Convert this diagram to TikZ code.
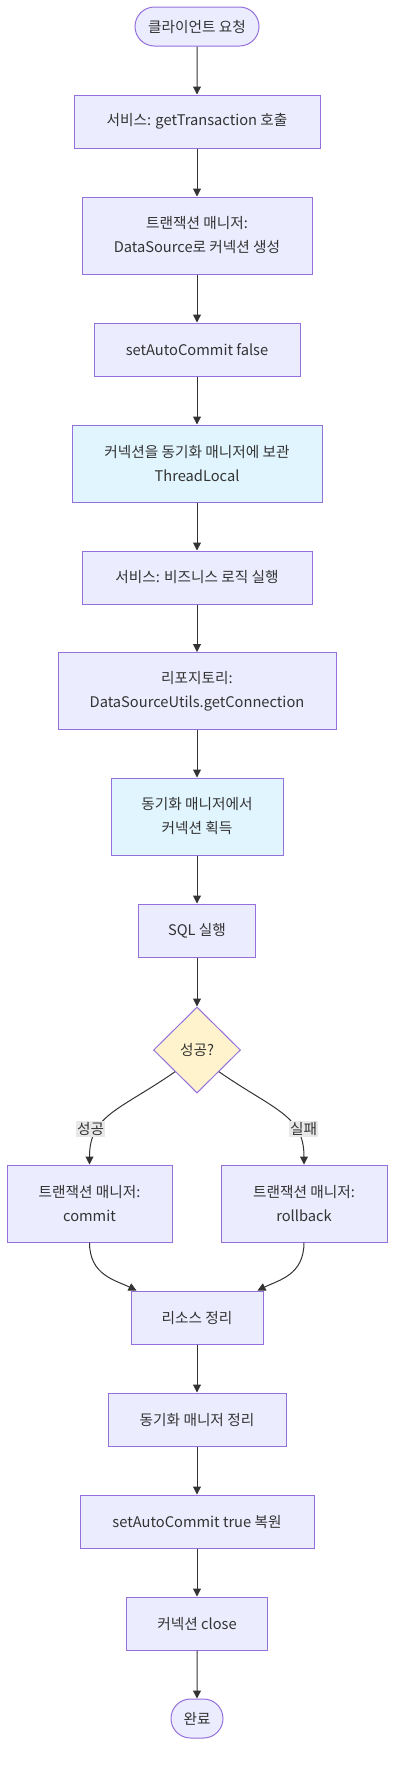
\documentclass[tikz,border=0pt]{standalone}
\usepackage{fontspec}
\setmainfont{Noto Sans CJK KR}
\usetikzlibrary{shapes.geometric,shapes.misc,arrows.meta}
\definecolor{boxfill}{HTML}{ECECFF}
\definecolor{boxline}{HTML}{9370DB}
\definecolor{syncfill}{HTML}{E1F5FE}
\definecolor{decfill}{HTML}{FFF3CD}
\definecolor{edgec}{HTML}{333333}
\definecolor{lblfill}{HTML}{E8E8E8}
\definecolor{txtc}{HTML}{333333}
\begin{document}
\begin{tikzpicture}[x=0.75pt,y=-0.75pt,
  base/.style={draw=boxline, line width=0.75pt, text=txtc, font=\fontsize{11}{18}\selectfont, align=center, inner sep=0pt},
  proc/.style={base, rectangle, fill=boxfill},
  syncbox/.style={base, rectangle, fill=syncfill},
  term/.style={base, rounded rectangle, fill=boxfill, minimum height=29.25pt},
  decbox/.style={base, diamond, fill=decfill, minimum width=65.25pt, minimum height=64.5pt},
  flow/.style={draw=edgec, line width=0.75pt, -{Triangle[length=6pt,width=6pt]}},
  lbl/.style={fill=lblfill, text=txtc, font=\fontsize{11}{13}\selectfont, inner sep=1pt}
]
\useasboundingbox (0,0) rectangle (402,1778);

\node[term, minimum width=93pt] (start) at (197,26.5) {클라이언트 요청};
\node[proc, minimum width=184.5pt, minimum height=39.75pt] (n1) at (197,121.5) {서비스: getTransaction 호출};
\node[proc, minimum width=172.5pt, minimum height=57.75pt] (n2) at (197,235.5) {트랜잭션 매니저:\\DataSource로 커넥션 생성};
\node[proc, minimum width=154.5pt, minimum height=39.75pt] (n3) at (197,349.5) {setAutoCommit false};
\node[syncbox, minimum width=187.5pt, minimum height=57.75pt] (n4) at (197,463.5) {커넥션을 동기화 매니저에 보관\\ThreadLocal};
\node[proc, minimum width=172.5pt, minimum height=39.75pt] (n5) at (197,577.5) {서비스: 비즈니스 로직 실행};
\node[proc, minimum width=208.5pt, minimum height=57.75pt] (n6) at (197,691) {리포지토리:\\DataSourceUtils.getConnection};
\node[syncbox, minimum width=129pt, minimum height=57.75pt] (n7) at (197,816.5) {동기화 매니저에서\\커넥션 획득};
\node[proc, minimum width=87.75pt, minimum height=39.75pt] (n8) at (197,930.5) {SQL 실행};
\node[decbox] (dec) at (197,1050) {성공?};
\node[proc, minimum width=123.75pt, minimum height=57.75pt] (nc) at (89.5,1203.5) {트랜잭션 매니저:\\commit};
\node[proc, minimum width=124.5pt, minimum height=57.75pt] (nr) at (304,1203.5) {트랜잭션 매니저:\\rollback};
\node[proc, minimum width=99pt, minimum height=39.75pt] (res) at (197,1317.5) {리소스 정리};
\node[proc, minimum width=133.5pt, minimum height=39.75pt] (sync) at (197,1419.5) {동기화 매니저 정리};
\node[proc, minimum width=175.5pt, minimum height=39.75pt] (auto) at (197,1521.5) {setAutoCommit true 복원};
\node[proc, minimum width=105.75pt, minimum height=39.75pt] (close) at (197,1623.5) {커넥션 close};
\node[term, minimum width=39pt] (fin) at (197,1718.5) {완료};

\draw[flow] (start) -- (n1);
\draw[flow] (n1) -- (n2);
\draw[flow] (n2) -- (n3);
\draw[flow] (n3) -- (n4);
\draw[flow] (n4) -- (n5);
\draw[flow] (n5) -- (n6);
\draw[flow] (n6) -- (n7);
\draw[flow] (n7) -- (n8);
\draw[flow] (n8) -- (dec);
\draw[flow] (dec.south west) .. controls (120,1110) and (89.5,1115) .. (nc.north);
\draw[flow] (dec.south east) .. controls (274,1110) and (304,1115) .. (nr.north);
\node[lbl] (lok) at (90.5,1129) {성공};
\node[lbl] (lfail) at (303.5,1129) {실패};
\draw[flow] (nc.south) .. controls (89.5,1275) and (115,1280) .. ([xshift=4.5pt]res.north west);
\draw[flow] (nr.south) .. controls (304,1275) and (279,1280) .. ([xshift=-4.5pt]res.north east);
\draw[flow] (res) -- (sync);
\draw[flow] (sync) -- (auto);
\draw[flow] (auto) -- (close);
\draw[flow] (close) -- (fin);
\end{tikzpicture}
\end{document}
